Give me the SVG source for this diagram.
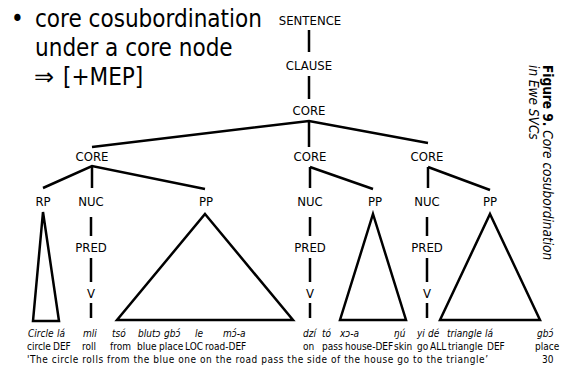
<svg xmlns="http://www.w3.org/2000/svg" width="561" height="367" viewBox="0 0 561 367">
  <style>
    .title { font-family: "DejaVu Sans Condensed", "DejaVu Sans", sans-serif; font-size: 24px; fill: #000; }
    .arrow { font-family: "DejaVu Sans", sans-serif; font-size: 24px; fill: #000; }
    .lbl { font-family: "DejaVu Sans Condensed", "DejaVu Sans", sans-serif; font-size: 13px; fill: #000; text-anchor: middle; }
    .gl { font-family: "DejaVu Sans Condensed", "DejaVu Sans", sans-serif; font-size: 10px; fill: #000; }
    .it { font-style: italic; }
    .cap { font-family: "DejaVu Sans Condensed", "DejaVu Sans", sans-serif; font-size: 13.5px; fill: #000; }
    .edge { stroke: #000; stroke-width: 2.5; fill: none; stroke-linecap: butt; stroke-linejoin: miter; }
    .tri { stroke: #000; stroke-width: 2.5; fill: #fff; stroke-linejoin: miter; }
  </style>
  <rect width="561" height="367" fill="#fff"/>

  <!-- bullet point text -->
  <g id="heading">
    <text class="title" x="11" y="27">•</text>
    <text class="title" x="35" y="27">core cosubordination</text>
    <text class="title" x="35" y="56">under a core node</text>
    <text class="arrow" x="34" y="85">⇒</text>
    <text class="title" x="63" y="85">[+MEP]</text>
  </g>

  <!-- connectors of the tree -->
  <g id="connectors">
    <line class="edge" x1="309" y1="30" x2="309" y2="52"/>
    <line class="edge" x1="309" y1="76" x2="309" y2="99"/>
    <polyline class="edge" points="92,147 309,121 428,143"/>
    <line class="edge" x1="309" y1="121" x2="309" y2="147"/>
    <!-- left core -->
    <polyline class="edge" points="43,188 92,166 205,189"/>
    <line class="edge" x1="92" y1="166" x2="92" y2="188"/>
    <line class="edge" x1="91" y1="217" x2="91" y2="236"/>
    <line class="edge" x1="91" y1="258" x2="91" y2="282"/>
    <line class="edge" x1="91" y1="303" x2="91" y2="318"/>
    <!-- middle core -->
    <line class="edge" x1="310" y1="167" x2="310" y2="188"/>
    <line class="edge" x1="310" y1="167" x2="373" y2="189"/>
    <line class="edge" x1="310" y1="217" x2="310" y2="236"/>
    <line class="edge" x1="310" y1="258" x2="310" y2="282"/>
    <line class="edge" x1="310" y1="303" x2="310" y2="318"/>
    <!-- right core -->
    <line class="edge" x1="428" y1="167" x2="428" y2="188"/>
    <line class="edge" x1="428" y1="167" x2="490" y2="190"/>
    <line class="edge" x1="427" y1="217" x2="427" y2="236"/>
    <line class="edge" x1="427" y1="258" x2="427" y2="282"/>
    <line class="edge" x1="427" y1="303" x2="427" y2="318"/>
  </g>

  <!-- tree nodes -->
  <g id="sentence"><text class="lbl" x="310" y="25">SENTENCE</text></g>
  <g id="clause"><text class="lbl" x="309" y="70">CLAUSE</text></g>
  <g id="core-top"><text class="lbl" x="309" y="115">CORE</text></g>

  <g id="core-1"><text class="lbl" x="92" y="161">CORE</text></g>
  <g id="core-2"><text class="lbl" x="310" y="161">CORE</text></g>
  <g id="core-3"><text class="lbl" x="427" y="161">CORE</text></g>

  <g id="rp-1">
    <text class="lbl" x="43" y="206">RP</text>
    <polygon class="tri" points="43,212 59,321 33,321"/>
  </g>
  <g id="nuc-1"><text class="lbl" x="91" y="206">NUC</text></g>
  <g id="pred-1"><text class="lbl" x="91" y="252">PRED</text></g>
  <g id="v-1"><text class="lbl" x="91" y="298">V</text></g>
  <g id="pp-1">
    <text class="lbl" x="206" y="206">PP</text>
    <polygon class="tri" points="205,214 293,320 117,320"/>
  </g>

  <g id="nuc-2"><text class="lbl" x="310" y="206">NUC</text></g>
  <g id="pred-2"><text class="lbl" x="310" y="252">PRED</text></g>
  <g id="v-2"><text class="lbl" x="310" y="298">V</text></g>
  <g id="pp-2">
    <text class="lbl" x="375" y="206">PP</text>
    <polygon class="tri" points="373,214 406,320 340,320"/>
  </g>

  <g id="nuc-3"><text class="lbl" x="427" y="206">NUC</text></g>
  <g id="pred-3"><text class="lbl" x="427" y="252">PRED</text></g>
  <g id="v-3"><text class="lbl" x="427" y="298">V</text></g>
  <g id="pp-3">
    <text class="lbl" x="490" y="206">PP</text>
    <polygon class="tri" points="490,214 540,320 440,320"/>
  </g>

  <!-- Ewe words -->
  <g id="ewe" class="gl it">
    <text x="28" y="337">Circle</text>
    <text x="57" y="337">lá</text>
    <text x="83" y="337">mli</text>
    <text x="112" y="337">tsó</text>
    <text x="138" y="337">blutɔ</text>
    <text x="164" y="337">gbɔ́</text>
    <text x="195" y="337">le</text>
    <text x="223" y="337">mɔ́-a</text>
    <text x="303" y="337">dzí</text>
    <text x="322" y="337">tó</text>
    <text x="340" y="337">xɔ-a</text>
    <text x="394" y="337">ŋú</text>
    <text x="417" y="337">yi</text>
    <text x="428" y="337">dé</text>
    <text x="447" y="337">triangle</text>
    <text x="485" y="337">lá</text>
    <text x="537" y="337">gbɔ́</text>
  </g>

  <!-- interlinear gloss -->
  <g id="gloss" class="gl">
    <text x="27" y="350">circle</text>
    <text x="53" y="350">DEF</text>
    <text x="82" y="350">roll</text>
    <text x="110" y="350">from</text>
    <text x="137" y="350">blue</text>
    <text x="159" y="350">place</text>
    <text x="185" y="350">LOC</text>
    <text x="205" y="350">road-DEF</text>
    <text x="303" y="350">on</text>
    <text x="322" y="350">pass</text>
    <text x="345" y="350">house-DEF</text>
    <text x="394" y="350">skin</text>
    <text x="417" y="350">go</text>
    <text x="430" y="350">ALL</text>
    <text x="448" y="350">triangle</text>
    <text x="487" y="350">DEF</text>
    <text x="535" y="350">place</text>
  </g>

  <g id="translation" class="gl">
    <text x="27" y="363" textLength="461" lengthAdjust="spacing">'The circle rolls from the blue one on the road pass the side of the house go to the triangle’</text>
    <text x="542" y="363">30</text>
  </g>

  <!-- vertical figure caption -->
  <g id="caption" transform="translate(543,65) rotate(90)">
    <text class="cap" x="0" y="0"><tspan font-weight="bold">Figure 9.</tspan><tspan font-style="italic"> Core cosubordination</tspan></text>
    <text class="cap" x="0" y="14" font-style="italic">in Ewe SVCs</text>
  </g>
</svg>
